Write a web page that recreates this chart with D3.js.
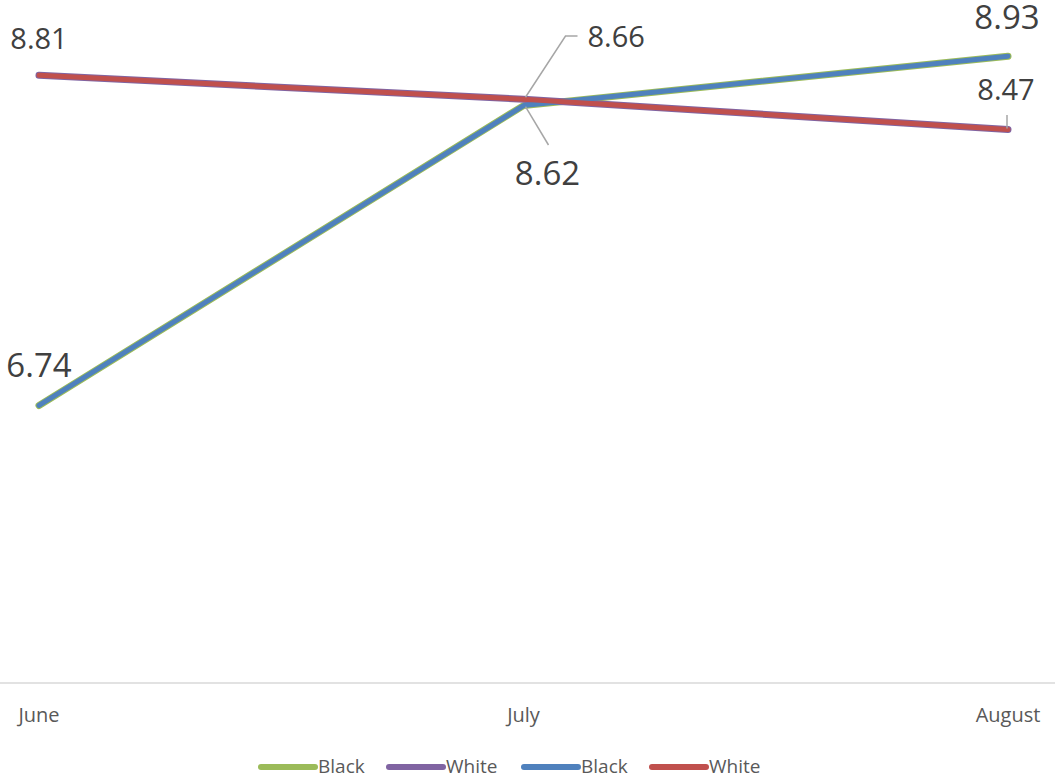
<!DOCTYPE html>
<html><head><meta charset="utf-8">
<script src="https://cdn.jsdelivr.net/npm/d3@7"></script>
<style>body{margin:0;background:#fff}svg{display:block}</style>
</head><body>
<svg id="c" width="1055" height="778"></svg>
<script>
const categories = ["June", "July", "August"];
const blackValues = [6.74, 8.62, 8.93];
const whiteValues = [8.81, 8.66, 8.47];
const seriesNames = ["Black", "White", "Black", "White"];
const seriesColors = ["#9bbb59", "#8064a2", "#4f81bd", "#c0504d"];
const seriesWidths = [7, 7, 5, 5];
const seriesData = [blackValues, whiteValues, blackValues, whiteValues];

const svg = d3.select("#c");
const font = "'Open Sans', 'Noto Sans', sans-serif";
const x = d3.scalePoint().domain(categories).range([39, 1008]);
const y = d3.scaleLinear().domain([5, 9]).range([683, 45]);

// axis line
svg.append("line").attr("x1", 0).attr("x2", 1055).attr("y1", y(5)).attr("y2", y(5))
  .attr("stroke", "#d9d9d9").attr("stroke-width", 1.5);

// category labels
svg.selectAll("text.cat").data(categories).enter().append("text")
  .attr("x", d => x(d)).attr("y", 722).attr("text-anchor", "middle")
  .attr("font-family", font).attr("font-size", 20).attr("fill", "#595959").text(d => d);

const line = d3.line().x((d, i) => x(categories[i])).y(d => y(d));
seriesData.forEach((vals, k) => {
  svg.append("path").datum(vals).attr("d", line).attr("fill", "none")
    .attr("stroke", seriesColors[k]).attr("stroke-width", seriesWidths[k])
    .attr("stroke-linecap", "round").attr("stroke-linejoin", "round");
});

// leader lines
const lead = "#a6a6a6";
const jx = x("July");
svg.append("polyline").attr("points",
  `${jx + 2},${y(whiteValues[1]) - 2} ${jx + 42},36 ${jx + 54},36`)
  .attr("fill", "none").attr("stroke", lead).attr("stroke-width", 1.5);
svg.append("line").attr("x1", jx + 2).attr("y1", y(blackValues[1]) + 1)
  .attr("x2", jx + 25).attr("y2", 145).attr("stroke", lead).attr("stroke-width", 1.5);
const ax = x("August");
svg.append("line").attr("x1", ax - 1).attr("y1", 115).attr("x2", ax - 1).attr("y2", y(whiteValues[2]) - 1)
  .attr("stroke", lead).attr("stroke-width", 1.5);

// data labels
const labels = [
  {v: whiteValues[0], x: x("June"), y: 49, a: "middle", s: 29},
  {v: blackValues[0], x: x("June"), y: 377, a: "middle", s: 33},
  {v: whiteValues[1], x: jx + 64, y: 47, a: "start", s: 29},
  {v: blackValues[1], x: jx + 24, y: 185, a: "middle", s: 33},
  {v: blackValues[2], x: ax - 1, y: 29, a: "middle", s: 33},
  {v: whiteValues[2], x: ax - 2, y: 100, a: "middle", s: 29}
];
svg.selectAll("text.lbl").data(labels).enter().append("text")
  .attr("x", d => d.x).attr("y", d => d.y).attr("text-anchor", d => d.a)
  .attr("font-family", font).attr("font-size", d => d.s).attr("fill", "#404040")
  .text(d => d.v.toFixed(2));

// legend
const legX = [261, 389, 524, 652];
seriesNames.forEach((n, k) => {
  svg.append("line").attr("x1", legX[k]).attr("x2", legX[k] + 54).attr("y1", 767).attr("y2", 767)
    .attr("stroke", seriesColors[k]).attr("stroke-width", 6).attr("stroke-linecap", "round");
  svg.append("text").attr("x", legX[k] + 57).attr("y", 773)
    .attr("font-family", font).attr("font-size", 19).attr("fill", "#595959").text(n);
});
</script>
</body></html>
